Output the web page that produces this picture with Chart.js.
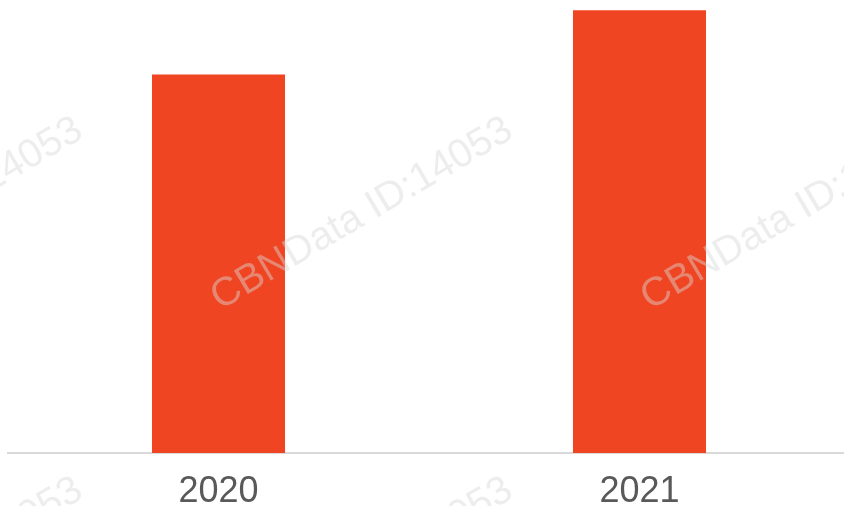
<!DOCTYPE html>
<html>
<head>
<meta charset="utf-8">
<script src="https://cdn.jsdelivr.net/npm/chart.js@4/dist/chart.umd.min.js"></script>
<style>
  html, body { margin: 0; padding: 0; background: #fff; overflow: hidden; }
  #wrap { width: 850px; height: 506px; }
</style>
</head>
<body>
<div id="wrap"><canvas id="chart"></canvas></div>
<script>
// Years on the x axis
const years = ['2020', '2021'];

// Bar heights (relative, no y axis shown in the source)
const values = [85.5, 100];

const watermarkText = 'CBNData ID:14053';

// draws the repeated diagonal watermark on top of everything
const watermark = {
    id: 'watermark',
    afterDraw(chart) {
        const ctx = chart.ctx;
        ctx.save();
        ctx.font = '40px "Liberation Sans", Arial, sans-serif';
        ctx.fillStyle = 'rgba(215,215,215,0.45)';
        ctx.textAlign = 'center';
        ctx.textBaseline = 'middle';
        for (let i = -1; i <= 2; i++) {
            for (let j = -1; j <= 1; j++) {
                ctx.save();
                ctx.translate(362 + 430 * i, 214 + 360 * j);
                ctx.rotate(-30.5 * Math.PI / 180);
                ctx.fillText(watermarkText, 0, 0);
                ctx.restore();
            }
        }
        ctx.restore();
    }
};

new Chart(document.getElementById('chart'), {
    type: 'bar',
    data: {
        labels: years,
        datasets: [{
            data: values,
            backgroundColor: '#F04522',
            barPercentage: 0.632,
            categoryPercentage: 0.5
        }]
    },
    options: {
        responsive: true,
        maintainAspectRatio: false,
        animation: false,
        layout: {
            padding: { left: 8, right: 0, top: 0, bottom: 0 }
        },
        plugins: {
            legend: { display: false },
            tooltip: { enabled: false }
        },
        scales: {
            x: {
                grid: { display: false, drawTicks: false },
                border: { display: true, color: '#d9d9d9', width: 2 },
                ticks: {
                    color: '#595959',
                    padding: 17,
                    font: { size: 36, family: '"Liberation Sans", Arial, sans-serif', lineHeight: 1.2 }
                },
                afterFit(scale) {
                    scale.height = 53;
                }
            },
            y: {
                display: false,
                min: 0,
                max: 102.3
            }
        }
    },
    plugins: [watermark]
});
</script>
</body>
</html>
